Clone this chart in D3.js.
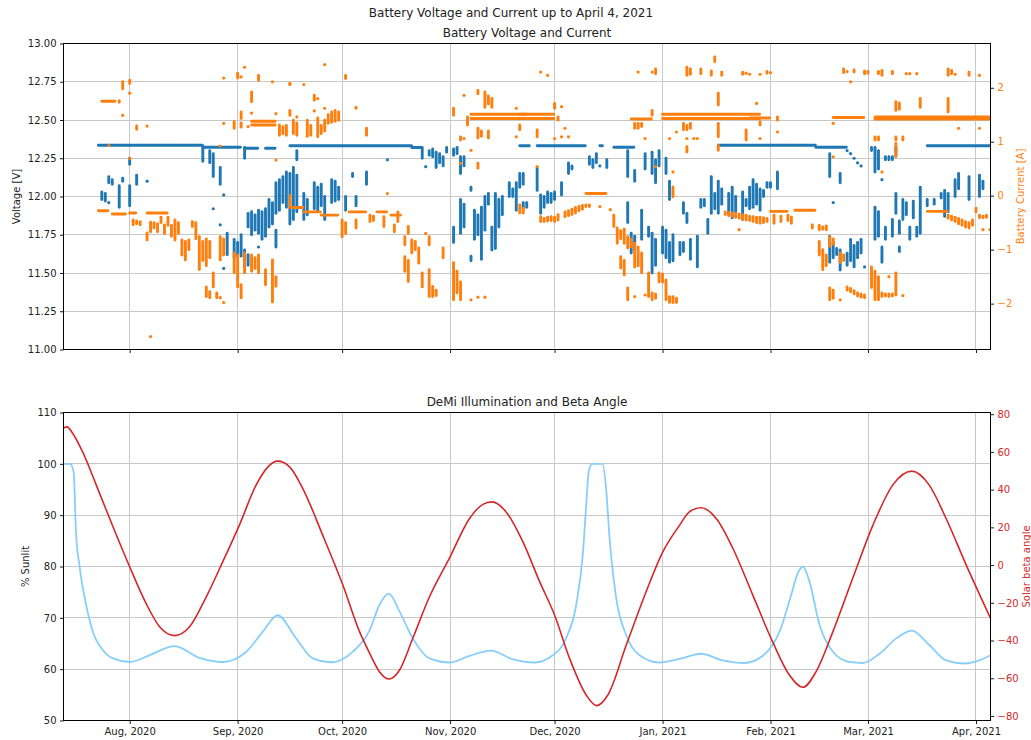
<!DOCTYPE html>
<html>
<head>
<meta charset="utf-8">
<script src="https://cdn.jsdelivr.net/npm/d3@7"></script>
<style>
  body { margin: 0; background: #fff; }
  svg text { font-family: "DejaVu Sans", sans-serif; }
</style>
</head>
<body>
<svg id="chart" width="1031" height="740"></svg>
<script>
// ---------------- Battery telemetry (top panel) ----------------
// Dense horizontal runs of samples: [start day, end day, value]
const voltageRuns = [
  ["2020-07-23","2020-08-22",12.335], ["2020-08-22","2020-09-02",12.322],
  ["2020-09-03","2020-09-07",12.315], ["2020-09-09","2020-09-12",12.315],
  ["2020-09-16","2020-10-21",12.332], ["2020-10-21","2020-10-24",12.32],
  ["2020-11-21","2020-11-24",12.332], ["2020-11-26","2020-12-10",12.332],
  ["2020-12-14","2020-12-15",12.332], ["2020-12-18","2020-12-24",12.322],
  ["2021-01-17","2021-02-14",12.335], ["2021-02-14","2021-02-23",12.322],
  ["2021-03-18","2021-04-05",12.332]
];
// Samples per day: [day, value] or [day, low, high] for a daily spread
const voltageMarks = [
  ["2020-07-24",11.98,12.03],["2020-07-25",11.97,12.02],["2020-07-26",12.09,12.13],["2020-07-26",11.96],
  ["2020-07-27",12.08,12.11],["2020-07-29",11.93,12.07],["2020-07-30",12.10,12.12],["2020-08-01",12.21,12.25],
  ["2020-08-01",11.94,12.07],["2020-08-03",12.08,12.14],["2020-08-06",12.10],
  ["2020-08-22",12.23,12.32],["2020-08-24",12.22,12.30],["2020-08-25",12.13,12.28],["2020-08-27",12.08,12.19],
  ["2020-08-28",12.01],["2020-08-25",11.92],["2020-09-03",12.25,12.32],
  ["2020-08-27",11.815],["2020-08-28",11.53],["2020-08-29",11.62,11.76],["2020-08-31",11.60,11.72],
  ["2020-09-01",11.62,11.70],["2020-09-02",11.61,11.75],["2020-09-03",11.54,11.65],["2020-09-04",11.55,11.62],
  ["2020-09-04",11.80,11.89],["2020-09-05",11.75,11.90],["2020-09-06",11.78,11.88],["2020-09-07",11.67],
  ["2020-09-07",11.76,11.91],["2020-09-08",11.72,11.90],["2020-09-09",11.74,11.92],["2020-09-10",11.80,11.98],
  ["2020-09-11",11.82,11.96],["2020-09-12",11.67,11.78],["2020-09-12",11.89,12.09],["2020-09-13",11.91,12.11],
  ["2020-09-14",11.96,12.13],["2020-09-15",11.93,12.16],["2020-09-16",11.82,12.15],["2020-09-17",11.85,12.19],
  ["2020-09-18",11.90,12.14],["2020-09-18",12.24,12.30],["2020-09-20",11.85,12.02],["2020-09-21",11.88,11.98],
  ["2020-09-23",11.92,12.09],["2020-09-24",11.91,12.06],["2020-09-25",11.94,12.08],["2020-09-26",11.85,12.00],
  ["2020-09-28",11.96,12.11],["2020-09-29",11.97,12.10],["2020-09-30",11.98,12.06],["2020-10-02",11.91,12.00],
  ["2020-10-04",12.13,12.15],["2020-10-05",11.94,12.00],["2020-10-08",12.08,12.16],["2020-10-14",12.24],
  ["2020-10-24",12.25,12.32],["2020-10-25",12.195],["2020-10-26",12.27,12.30],["2020-10-27",12.26,12.31],
  ["2020-10-28",12.19,12.29],["2020-10-29",12.22,12.28],["2020-10-30",12.20,12.26],["2020-10-31",12.29,12.32],
  ["2020-11-02",12.27,12.31],["2020-11-03",12.28,12.32],["2020-11-04",12.15,12.26],["2020-11-05",12.20,12.26],
  ["2020-11-02",11.70,11.80],["2020-11-04",11.76,11.98],["2020-11-05",11.80,11.95],["2020-11-07",12.04,12.06],
  ["2020-11-07",11.58,11.61],["2020-11-08",11.72,11.91],["2020-11-09",11.75,11.88],["2020-11-10",11.59,11.93],
  ["2020-11-11",11.78,12.00],["2020-11-12",11.95,12.02],["2020-11-13",11.65,11.80],["2020-11-14",11.66,11.78],
  ["2020-11-14",11.76,12.02],["2020-11-15",11.80,11.98],["2020-11-16",11.88,12.00],["2020-11-18",12.00,12.09],
  ["2020-11-19",12.00,12.05],["2020-11-20",11.91,12.09],["2020-11-21",12.06,12.15],["2020-11-22",12.08,12.15],
  ["2020-11-22",11.92,11.96],["2020-11-23",11.93,11.96],["2020-11-26",12.04,12.19],["2020-11-27",11.89,12.01],
  ["2020-11-28",11.93,12.00],["2020-11-29",11.96,12.03],["2020-11-30",11.96,12.02],["2020-12-01",11.98,12.03],
  ["2020-12-03",12.01,12.09],["2020-12-05",12.15,12.22],["2020-12-06",12.18,12.20],
  ["2020-12-11",12.21,12.26],["2020-12-12",12.19,12.24],["2020-12-13",12.22,12.28],["2020-12-14",12.20],
  ["2020-12-16",12.19,12.24],["2020-12-22",12.13,12.30],["2020-12-24",12.10,12.17],["2020-12-27",12.18,12.28],
  ["2020-12-29",12.15,12.29],["2020-12-30",12.09,12.24],["2020-12-31",12.20,12.30],["2021-01-02",12.15,12.25],
  ["2020-12-22",11.83,11.96],["2020-12-23",11.63,11.76],["2020-12-24",11.65,11.74],["2020-12-26",11.72,11.91],
  ["2020-12-28",11.74,11.80],["2020-12-29",11.50,11.76],["2020-12-30",11.55,11.72],["2021-01-01",11.63,11.80],
  ["2021-01-02",11.60,11.78],["2021-01-03",11.57,11.70],["2021-01-04",11.58,11.75],["2021-01-03",11.98,12.10],
  ["2021-01-06",11.62,11.70],["2021-01-07",11.64,11.70],["2021-01-07",11.89,11.96],["2021-01-08",11.83,11.89],
  ["2021-01-09",11.59,11.72],["2021-01-11",11.54,11.74],["2021-01-12",11.93,11.98],["2021-01-13",11.94,11.98],
  ["2021-01-14",11.76,11.85],["2021-01-15",11.89,12.13],["2021-01-16",11.92,12.02],["2021-01-17",11.89,12.10],
  ["2021-01-18",11.95,12.05],["2021-01-20",11.88,12.02],["2021-01-21",11.86,12.06],["2021-01-22",11.90,12.00],
  ["2021-01-24",11.85,12.03],["2021-01-25",11.94,11.98],["2021-01-26",11.92,12.06],["2021-01-27",11.93,12.11],
  ["2021-01-28",11.95,12.08],["2021-01-29",11.91,12.05],["2021-01-30",12.00,12.04],["2021-01-31",12.06,12.09],
  ["2021-02-01",12.06,12.09],["2021-02-03",12.05,12.16],
  ["2021-02-18",12.13,12.28],["2021-02-19",11.96],["2021-02-21",12.09,12.15],["2021-02-23",12.30],
  ["2021-02-24",12.28],["2021-02-25",12.25],["2021-02-26",12.22],["2021-02-27",12.20],
  ["2021-03-02",12.30,12.32],["2021-03-03",12.16,12.32],["2021-03-04",12.18,12.30],["2021-03-05",12.11],
  ["2021-03-06",12.24,12.26],["2021-03-07",12.24,12.26],["2021-03-08",12.24,12.26],["2021-03-09",12.27,12.32],
  ["2021-02-18",11.57,11.74],["2021-02-19",11.60,11.70],["2021-02-20",11.62,11.66],["2021-02-21",11.52,11.65],
  ["2021-02-23",11.55,11.63],["2021-02-24",11.58,11.72],["2021-02-25",11.54,11.68],["2021-02-26",11.60,11.70],
  ["2021-02-27",11.63,11.72],["2021-02-28",11.54],["2021-03-03",11.72,11.93],["2021-03-04",11.74,11.90],
  ["2021-03-05",11.57,11.67],["2021-03-06",11.72,11.80],["2021-03-08",11.74,11.85],["2021-03-09",11.89,12.02],
  ["2021-03-10",11.64,11.67],["2021-03-10",11.76,11.84],["2021-03-11",11.85,11.98],["2021-03-12",11.88,11.96],
  ["2021-03-13",11.72,11.80],["2021-03-14",11.86,11.97],["2021-03-15",11.74,11.80],["2021-03-16",11.76,12.06],
  ["2021-03-18",11.94,11.98],["2021-03-20",11.95,11.98],["2021-03-22",11.99,12.02],["2021-03-23",11.87,12.04],
  ["2021-03-24",11.90,12.02],["2021-03-26",12.00,12.11],["2021-03-27",12.05,12.15],["2021-03-30",11.98,12.13],
  ["2021-04-02",12.00,12.14],["2021-04-03",12.05,12.10]
];

const currentRuns = [
  ["2020-07-24","2020-07-28",1.75], ["2020-07-23","2020-07-26",-0.28], ["2020-07-27","2020-07-31",-0.34],
  ["2020-08-01","2020-08-03",-0.32], ["2020-08-06","2020-08-12",-0.32],
  ["2020-09-05","2020-09-12",1.38], ["2020-09-05","2020-09-12",1.31],
  ["2020-09-16","2020-09-20",-0.22], ["2020-09-20","2020-09-25",-0.30], ["2020-09-25","2020-09-30",-0.36],
  ["2020-10-03","2020-10-08",-0.30], ["2020-10-11","2020-10-14",-0.30], ["2020-10-15","2020-10-18",-0.36],
  ["2020-11-07","2020-11-23",1.43], ["2020-11-07","2020-11-23",1.51],
  ["2020-11-21","2020-12-01",1.43], ["2020-11-21","2020-12-01",1.51],
  ["2020-12-10","2020-12-16",0.04], ["2020-12-23","2020-12-29",1.42],
  ["2021-01-01","2021-01-29",1.43], ["2021-01-01","2021-01-29",1.51],
  ["2021-01-26","2021-02-01",1.44], ["2021-02-19","2021-02-28",1.45],
  ["2021-03-03","2021-04-05",1.42], ["2021-03-03","2021-04-05",1.46],
  ["2021-02-01","2021-02-06",-0.29], ["2021-02-08","2021-02-14",-0.27], ["2021-03-18","2021-03-24",-0.29]
];
const currentMarks = [
  ["2020-07-29",1.73,1.76],["2020-07-30",1.98,2.11],["2020-07-30",1.49],["2020-08-01",2.08,2.14],
  ["2020-08-01",1.90],["2020-08-03",1.23,1.29],["2020-08-06",1.29],["2020-07-26",0.93],["2020-08-01",0.69],
  ["2020-08-02",-0.45,-0.54],["2020-08-03",-0.47,-0.52],["2020-08-04",-0.48,-0.54],["2020-08-06",-0.69,-0.82],
  ["2020-08-07",-0.49,-0.67],["2020-08-08",-0.50,-0.60],["2020-08-09",-0.52,-0.67],["2020-08-10",-0.40,-0.50],
  ["2020-08-11",-0.54,-0.70],["2020-08-12",-0.40,-0.55],["2020-08-13",-0.55,-0.75],["2020-08-14",-0.45,-0.82],
  ["2020-08-15",-0.50,-0.70],["2020-08-16",-0.82,-1.10],["2020-08-17",-0.85,-1.19],["2020-08-18",-0.82,-1.00],
  ["2020-08-19",-0.48,-0.57],["2020-08-20",-0.50,-0.80],["2020-08-21",-0.76,-1.37],["2020-08-22",-0.85,-1.20],
  ["2020-08-23",-0.80,-1.30],["2020-08-24",-0.85,-1.15],["2020-08-23",-1.69,-1.87],["2020-08-24",-1.78,-1.89],
  ["2020-08-25",-1.43,-1.69],["2020-08-26",-1.80,-1.89],["2020-08-27",-1.89],["2020-08-27",-0.76,-1.19],
  ["2020-08-28",-0.80,-1.10],["2020-08-28",-1.98],["2020-08-31",-1.06,-1.43],["2020-09-01",-1.10,-1.40],
  ["2020-09-01",-1.43,-1.69],["2020-09-02",-1.65,-1.89],["2020-09-03",-1.06,-1.43],["2020-09-05",-1.10,-1.40],
  ["2020-09-06",-1.15,-1.35],["2020-09-07",-1.10,-1.43],["2020-09-09",-1.37,-1.65],["2020-09-11",-1.19,-1.97],
  ["2020-09-12",-1.50,-1.68],["2020-08-07",-2.61],
  ["2020-08-28",2.18],["2020-09-01",2.18,2.27],["2020-09-02",2.20],["2020-09-03",2.38],["2020-09-07",2.14,2.23],
  ["2020-09-11",2.11],["2020-09-16",2.06],["2020-09-05",1.74,1.92],["2020-09-02",1.43,1.55],["2020-09-05",1.53],
  ["2020-09-12",1.52],["2020-09-16",1.49,1.58],["2020-08-28",1.34],["2020-08-31",1.25,1.37],["2020-09-02",1.27,1.35],
  ["2020-09-04",1.28],["2020-08-27",0.92],["2020-09-12",0.66],["2020-09-16",-0.20,0.0],
  ["2020-09-13",1.12,1.31],["2020-09-14",1.15,1.28],["2020-09-15",1.12,1.30],["2020-09-17",1.15,1.40],
  ["2020-09-18",1.12,1.35],["2020-09-16",2.08],["2020-09-20",2.06],["2020-09-23",1.77,1.86],["2020-09-24",1.80],
  ["2020-09-26",2.43],["2020-09-26",1.62],["2020-09-23",1.57],["2020-09-18",1.46],["2020-09-21",1.10,1.40],
  ["2020-09-22",1.12,1.30],["2020-09-24",1.09,1.44],["2020-09-25",1.15,1.30],["2020-09-26",1.20,1.40],
  ["2020-09-27",1.34,1.50],["2020-09-28",1.36,1.55],["2020-09-29",1.38,1.58],["2020-09-30",1.40,1.55],
  ["2020-10-02",2.17,2.23],["2020-10-05",1.62,1.64],["2020-10-08",1.12,1.25],["2020-10-14",0.04],
  ["2020-10-01",-0.45,-0.76],["2020-10-02",-0.50,-0.70],["2020-10-05",-0.45,-0.60],["2020-10-09",-0.36,-0.48],
  ["2020-10-10",-0.38,-0.46],["2020-10-13",-0.39,-0.57],["2020-10-16",-0.54,-0.67],["2020-10-17",-0.30,-0.48],
  ["2020-10-19",-0.76,-0.91],["2020-10-20",-0.57,-0.70],["2020-10-19",-1.13,-1.40],["2020-10-20",-1.20,-1.59],
  ["2020-10-21",-0.82,-1.06],["2020-10-22",-0.85,-1.00],["2020-10-23",-0.97,-1.25],["2020-10-24",-1.43,-1.69],
  ["2020-10-25",-0.70],["2020-10-26",-0.76,-0.91],["2020-10-26",-1.37,-1.87],["2020-10-27",-1.68,-1.87],
  ["2020-10-28",-1.75,-1.85],["2020-10-30",-0.97,-1.15],["2020-11-02",-1.24,-1.93],["2020-11-03",-1.40,-1.80],
  ["2020-11-04",-1.60,-1.93],["2020-11-07",-1.93],["2020-11-09",-1.88],["2020-11-11",-1.88],
  ["2020-11-02",1.49,1.62],["2020-11-05",1.86],["2020-11-04",1.03,1.09],["2020-11-05",1.06],["2020-11-06",1.31,1.46],
  ["2020-11-09",1.89,1.95],["2020-11-11",1.64,1.92],["2020-11-12",1.70,1.85],["2020-11-13",1.64,1.80],
  ["2020-11-09",1.07,1.25],["2020-11-10",1.10,1.20],["2020-11-12",1.07,1.20],["2020-11-20",1.62],["2020-11-20",1.09],
  ["2020-11-07",0.84],["2020-11-09",0.51,0.60],["2020-11-04",0.60],["2020-11-21",-0.17,-0.32],["2020-11-22",-0.23,-0.32],
  ["2020-12-01",1.62,1.71],["2020-12-03",1.65],["2020-12-02",1.40,1.46],["2020-11-21",1.22,1.31],["2020-11-26",1.09,1.22],
  ["2020-12-01",1.06],["2020-12-03",1.09],["2020-12-04",1.25],["2020-12-05",1.09],["2020-11-27",2.29],["2020-11-29",2.23],
  ["2020-11-26",0.54],["2020-11-27",-0.39,-0.48],["2020-11-28",-0.42,-0.48],["2020-11-29",-0.40,-0.47],
  ["2020-11-30",-0.39,-0.46],["2020-12-01",-0.40,-0.48],["2020-12-02",-0.35,-0.45],["2020-12-04",-0.30,-0.39],
  ["2020-12-05",-0.28,-0.37],["2020-12-06",-0.25,-0.35],["2020-12-07",-0.22,-0.32],["2020-12-08",-0.20,-0.28],
  ["2020-12-09",-0.18,-0.25],["2020-12-10",-0.17,-0.20],["2020-12-11",-0.17,-0.20],["2020-12-14",-0.20],
  ["2020-12-17",-0.26],["2020-12-18",-0.36,-0.57],["2020-12-19",-0.60,-0.88],["2020-12-20",-0.65,-0.80],
  ["2020-12-21",-0.62,-0.88],["2020-12-22",-0.76,-0.97],["2020-12-23",-0.80,-0.95],["2020-12-24",-0.88,-1.32],
  ["2020-12-25",-0.95,-1.30],["2020-12-20",-1.13,-1.34],["2020-12-21",-1.20,-1.47],["2020-12-22",-1.71,-1.93],
  ["2020-12-24",-1.87],["2020-12-26",-1.06,-1.43],["2020-12-27",-1.84],["2020-12-28",-1.43,-1.87],
  ["2020-12-29",-1.80,-1.93],["2020-12-30",-1.82,-1.90],["2020-12-31",-1.43,-1.60],["2021-01-01",-1.45,-1.60],
  ["2021-01-02",-1.56,-1.93],["2021-01-03",-1.87,-1.98],["2021-01-04",-1.87,-1.98],["2021-01-05",-1.90,-1.98],
  ["2021-01-04",-0.02,0.16],["2021-01-04",0.44],["2020-12-30",0.54],
  ["2020-12-24",1.25,1.34],["2020-12-25",1.25,1.34],["2020-12-26",1.28,1.34],["2020-12-27",1.06],["2020-12-29",1.49,1.58],
  ["2021-01-07",1.22,1.34],["2021-01-08",1.22,1.30],["2021-01-09",1.25,1.34],["2021-01-08",1.06],["2021-01-11",1.06],
  ["2021-01-08",0.81,0.91],["2021-01-17",1.68,1.90],["2021-01-16",2.48,2.57],["2021-01-12",2.26,2.35],
  ["2021-01-15",2.23,2.31],["2021-01-18",2.23,2.29],["2021-01-08",2.23,2.38],["2021-01-09",2.25,2.35],
  ["2020-12-30",2.26,2.35],["2020-12-25",2.29],["2020-12-29",2.29],["2021-01-24",2.25,2.29],["2021-01-25",2.27],
  ["2021-01-26",2.25],["2021-01-29",2.25],["2021-01-17",1.09,1.34],["2021-01-25",1.03,1.22],["2021-01-17",0.84,0.93],
  ["2021-01-03",1.06],["2021-01-05",1.18],["2021-01-10",1.06],
  ["2021-01-19",-0.30,-0.35],["2021-01-20",-0.31,-0.37],["2021-01-21",-0.32,-0.38],["2021-01-22",-0.33,-0.40],
  ["2021-01-23",-0.34,-0.42],["2021-01-23",-0.63],["2021-01-24",-0.35,-0.44],["2021-01-25",-0.36,-0.45],
  ["2021-01-26",-0.38,-0.46],["2021-01-27",-0.39,-0.48],["2021-01-28",-0.40,-0.50],["2021-01-29",-0.40,-0.51],
  ["2021-01-30",-0.41,-0.50],["2021-01-31",-0.42,-0.48],
  ["2021-01-31",2.27,2.30],["2021-02-01",2.28],["2021-02-22",2.28,2.35],["2021-02-23",2.30],["2021-02-24",2.11],
  ["2021-02-25",2.29,2.33],["2021-02-28",2.26,2.31],["2021-03-01",2.27,2.30],["2021-03-04",2.26,2.30],
  ["2021-03-05",2.23,2.32],["2021-03-08",2.26,2.30],["2021-03-12",2.26],["2021-03-13",2.26],["2021-03-15",2.26],
  ["2021-03-24",2.23,2.35],["2021-03-25",2.26,2.32],["2021-03-26",2.25],["2021-03-30",2.23,2.29],["2021-04-02",2.23],
  ["2021-01-28",1.71],["2021-01-29",1.31,1.37],["2021-02-03",1.40,1.46],["2021-02-19",1.34],["2021-03-09",1.58,1.74],
  ["2021-03-10",1.60,1.72],["2021-03-16",1.64,1.80],["2021-03-24",1.55,1.80],["2021-03-27",1.25],["2021-04-02",1.25],
  ["2021-03-03",1.03,1.09],["2021-03-04",1.03,1.09],["2021-03-09",1.03,1.09],["2021-03-11",1.03,1.09],
  ["2021-03-09",0.72,0.97],["2021-02-19",0.72],["2021-01-29",1.06],["2021-02-03",1.18],["2021-03-05",0.44],
  ["2021-02-02",-0.36,-0.51],["2021-02-04",-0.38,-0.48],["2021-02-06",-0.36,-0.46],["2021-02-07",-0.40,-0.51],
  ["2021-02-13",-0.54,-0.60],["2021-02-15",-0.55,-0.63],["2021-02-16",-0.58,-0.62],["2021-02-17",-0.56,-0.63],
  ["2021-02-18",-0.76,-0.94],["2021-02-19",-0.80,-0.90],["2021-02-15",-0.85,-1.10],["2021-02-16",-1.00,-1.37],
  ["2021-02-17",-1.10,-1.30],["2021-02-21",-1.06,-1.24],["2021-02-22",-1.10,-1.20],["2021-02-18",-1.71,-1.93],
  ["2021-02-19",-1.75,-1.90],["2021-02-21",-1.93],["2021-02-23",-1.69,-1.75],["2021-02-24",-1.72,-1.78],
  ["2021-02-25",-1.76,-1.82],["2021-02-26",-1.80,-1.86],["2021-02-27",-1.82,-1.88],["2021-02-28",-1.84,-1.89],
  ["2021-03-02",-1.32,-1.70],["2021-03-03",-1.40,-1.93],["2021-03-04",-1.50,-1.93],["2021-03-05",-1.80,-1.87],
  ["2021-03-06",-1.82,-1.86],["2021-03-07",-1.50],["2021-03-07",-1.82,-1.87],["2021-03-08",-1.82,-1.86],
  ["2021-03-09",-1.43,-1.84],["2021-03-11",-1.85],
  ["2021-03-24",-0.36,-0.42],["2021-03-25",-0.38,-0.45],["2021-03-26",-0.40,-0.48],["2021-03-27",-0.42,-0.52],
  ["2021-03-28",-0.45,-0.55],["2021-03-29",-0.48,-0.58],["2021-03-30",-0.50,-0.60],["2021-03-31",-0.45,-0.55],
  ["2021-04-01",-0.23,-0.30],["2021-04-02",-0.36,-0.41],["2021-04-03",-0.38,-0.41],["2021-04-04",-0.36,-0.40],
  ["2021-04-03",-0.63],["2021-04-05",-0.63]
];

// ---------------- Illumination and beta angle (bottom panel) ----------------
const sunlitTimes = [
  "2020-07-13 00","2020-07-14 22","2020-07-15 22","2020-07-16 14","2020-07-17 14","2020-07-19 12","2020-07-21 10",
  "2020-07-24 08","2020-07-27 05","2020-08-01 00","2020-08-06 16","2020-08-13 22","2020-08-21 00","2020-08-27 16",
  "2020-09-03 12","2020-09-08 05","2020-09-12 12","2020-09-17 19","2020-09-22 14","2020-09-28 07","2020-10-04 02",
  "2020-10-08 22","2020-10-11 17","2020-10-14 10","2020-10-17 12","2020-10-21 07","2020-10-26 02","2020-11-01 00",
  "2020-11-06 14","2020-11-12 19","2020-11-19 00","2020-11-25 05","2020-11-30 12","2020-12-04 07","2020-12-07 05",
  "2020-12-09 02","2020-12-10 02","2020-12-10 19","2020-12-11 19","2020-12-14 19","2020-12-15 19","2020-12-16 19",
  "2020-12-18 17","2020-12-21 14","2020-12-25 10","2020-12-31 02","2021-01-05 22","2021-01-12 02","2021-01-18 07",
  "2021-01-24 12","2021-01-29 19","2021-02-03 14","2021-02-06 22","2021-02-08 19","2021-02-10 07","2021-02-12 05",
  "2021-02-15 02","2021-02-18 22","2021-02-23 17","2021-02-27 12","2021-03-04 07","2021-03-09 02","2021-03-13 14",
  "2021-03-18 14","2021-03-23 10","2021-03-28 17","2021-04-02 00","2021-04-05 04"
];
const sunlitPct = [
  100,100,98.4,86.7,80.2,72.5,67.3,
  63.7,62.1,61.4,62.7,64.5,62.2,61.4,
  63.4,67.3,70.5,66.0,62.1,61.35,63.4,
  67.6,72.5,74.7,71.2,66.0,62.1,61.3,
  62.6,63.6,61.9,61.3,62.7,66.0,72.5,
  82.2,91.9,98.4,100,100,95.2,85.5,
  73.8,66.6,62.7,61.3,62.0,63.0,61.7,
  61.2,62.6,67.3,74.4,78.6,80.0,77.0,
  68.6,63.4,61.4,61.2,63.0,66.0,67.5,
  64.7,61.7,61.1,61.7,62.7
];
const betaTimes = [
  "2020-07-13 00","2020-07-14 00","2020-07-15 16","2020-07-18 12","2020-07-22 10","2020-07-27 05","2020-08-01 00",
  "2020-08-05 17","2020-08-09 14","2020-08-13 22","2020-08-18 05","2020-08-23 00","2020-08-27 17","2020-09-01 12",
  "2020-09-06 07","2020-09-09 17","2020-09-12 12","2020-09-15 22","2020-09-19 17","2020-09-25 10","2020-10-01 05",
  "2020-10-06 00","2020-10-08 22","2020-10-11 17","2020-10-14 10","2020-10-17 12","2020-10-21 07","2020-10-26 02",
  "2020-11-01 00","2020-11-06 14","2020-11-10 10","2020-11-13 00","2020-11-17 02","2020-11-21 22","2020-11-26 17",
  "2020-12-01 00","2020-12-05 07","2020-12-10 02","2020-12-13 02","2020-12-16 07","2020-12-21 14","2020-12-27 07",
  "2021-01-01 02","2021-01-05 22","2021-01-08 17","2021-01-12 02","2021-01-16 10","2021-01-21 05","2021-01-26 22",
  "2021-02-01 14","2021-02-06 10","2021-02-10 07","2021-02-14 02","2021-02-18 22","2021-02-24 14","2021-03-02 10",
  "2021-03-08 02","2021-03-13 14","2021-03-18 14","2021-03-23 10","2021-03-29 05","2021-04-05 04"
];
const betaDeg = [
  72.7,73.3,69.8,60.0,42.4,20.3,-0.9,
  -20.3,-32.7,-37.4,-32.7,-16.8,1.7,21.2,
  42.4,52.1,55.1,52.1,40.6,15.9,-10.6,
  -35.3,-46.8,-56.5,-60.4,-55.6,-38.8,-16.8,
  4.4,24.7,32.2,33.5,28.2,12.3,-8.8,
  -26.5,-49.4,-68.9,-74.5,-68.9,-42.4,-14.1,
  7.0,21.2,28.2,30.4,24.7,8.8,-15.9,
  -40.6,-58.3,-64.8,-56.5,-35.3,-7.1,21.2,
  42.4,49.8,42.4,24.7,0.0,-28.2
];

// Axis tick values
const voltageTicks = d3.range(11, 13.001, 0.25);
const currentTicks = [-2, -1, 0, 1, 2];
const sunlitTicks = d3.range(50, 111, 10);
const betaTicks = d3.range(-80, 81, 20);

// ---------------- Drawing ----------------
const parseDay = d3.utcParse("%Y-%m-%d");
const parseHour = d3.utcParse("%Y-%m-%d %H");
const toTime = s => (s.length > 10 ? parseHour(s) : parseDay(s));

const BLUE = "#1f77b4", ORANGE = "#ff7f0e", RED = "#d62728", SKY = "#87cefa";
const GRID = "#c8c8c8", INK = "#222";
const L = 63.5, R = 990.5;
const upperPanel = { y0: 43.5, y1: 349.5 };
const lowerPanel = { y0: 412.5, y1: 720.5 };

const svg = d3.select("#chart");

const x = d3.scaleUtc()
  .domain([Date.UTC(2020, 6, 13, 0), Date.UTC(2021, 3, 5, 4)])
  .range([L, R]);
const monthTicks = x.ticks(d3.utcMonth.every(1));

const yV = d3.scaleLinear().domain([11, 13]).range([upperPanel.y1, upperPanel.y0]);
const yC = d3.scaleLinear().domain([-2.85, 2.82]).range([upperPanel.y1, upperPanel.y0]);
const yS = d3.scaleLinear().domain([50, 110]).range([lowerPanel.y1, lowerPanel.y0]);
const yB = d3.scaleLinear().domain([-82.4, 80.9]).range([lowerPanel.y1, lowerPanel.y0]);

const defs = svg.append("defs");
function clip(id, p) {
  defs.append("clipPath").attr("id", id).append("rect")
    .attr("x", L).attr("y", p.y0).attr("width", R - L).attr("height", p.y1 - p.y0);
}
clip("clipUpper", upperPanel);
clip("clipLower", lowerPanel);

const snap = v => Math.round(v - 0.5) + 0.5;

function grid(p, yScale, yTicks) {
  const g = svg.append("g").attr("stroke", GRID).attr("stroke-width", 1);
  g.selectAll("line.v").data(monthTicks).join("line").attr("class", "v")
    .attr("x1", d => snap(x(d))).attr("x2", d => snap(x(d)))
    .attr("y1", p.y0).attr("y2", p.y1);
  g.selectAll("line.h").data(yTicks).join("line").attr("class", "h")
    .attr("x1", L).attr("x2", R)
    .attr("y1", d => snap(yScale(d))).attr("y2", d => snap(yScale(d)));
}
grid(upperPanel, yV, voltageTicks);
grid(lowerPanel, yS, sunlitTicks);

// scatter of one telemetry channel: dense runs, daily spreads and single samples
function telemetry(runs, marks, yScale, color) {
  const g = svg.append("g").attr("clip-path", "url(#clipUpper)")
    .attr("stroke", color).attr("fill", color)
    .attr("stroke-width", 2.9).attr("stroke-linecap", "round");
  g.selectAll("line.run").data(runs).join("line").attr("class", "run")
    .attr("stroke-dasharray", "2.6 0.9")
    .attr("x1", d => x(toTime(d[0]))).attr("x2", d => x(toTime(d[1])))
    .attr("y1", d => yScale(d[2])).attr("y2", d => yScale(d[2]));
  g.selectAll("line.spread").data(marks.filter(d => d.length > 2)).join("line").attr("class", "spread")
    .attr("x1", d => x(toTime(d[0]))).attr("x2", d => x(toTime(d[0])))
    .attr("y1", d => yScale(d[1])).attr("y2", d => yScale(d[2]));
  g.selectAll("circle").data(marks.filter(d => d.length === 2)).join("circle")
    .attr("stroke", "none")
    .attr("cx", d => x(toTime(d[0]))).attr("cy", d => yScale(d[1])).attr("r", 1.6);
}
telemetry(voltageRuns, voltageMarks, yV, BLUE);
telemetry(currentRuns, currentMarks, yC, ORANGE);

// bottom panel lines
const sunlit = sunlitTimes.map((t, i) => [toTime(t), sunlitPct[i]]);
const beta = betaTimes.map((t, i) => [toTime(t), betaDeg[i]]);
const gb = svg.append("g").attr("clip-path", "url(#clipLower)").attr("fill", "none");
gb.append("path").datum(sunlit)
  .attr("d", d3.line().x(d => x(d[0])).y(d => yS(d[1])).curve(d3.curveMonotoneX))
  .attr("stroke", SKY).attr("stroke-width", 1.8);
gb.append("path").datum(beta)
  .attr("d", d3.line().x(d => x(d[0])).y(d => yB(d[1])).curve(d3.curveMonotoneX))
  .attr("stroke", RED).attr("stroke-width", 1.6);

// axes
function styleAxis(g, color) {
  g.select(".domain").remove();
  g.selectAll(".tick line").attr("stroke", "#000").attr("stroke-width", 0.9);
  g.selectAll(".tick text").attr("fill", color).attr("font-size", 10)
    .attr("font-family", "DejaVu Sans, sans-serif");
}
const intFmt = d3.format("d");

function xAxis(p, withLabels) {
  const a = d3.axisBottom(x).tickValues(monthTicks).tickSize(3.5).tickPadding(3.5)
    .tickFormat(withLabels ? d3.utcFormat("%b, %Y") : () => "");
  svg.append("g").attr("transform", `translate(0,${p.y1})`).call(a).call(g => styleAxis(g, INK));
}
xAxis(upperPanel, false);
xAxis(lowerPanel, true);

svg.append("g").attr("transform", `translate(${L},0)`)
  .call(d3.axisLeft(yV).tickValues(voltageTicks).tickFormat(d3.format(".2f")).tickSize(3.5).tickPadding(3.5))
  .call(g => styleAxis(g, INK));
svg.append("g").attr("transform", `translate(${R},0)`)
  .call(d3.axisRight(yC).tickValues(currentTicks).tickFormat(intFmt).tickSize(3.5).tickPadding(3.5))
  .call(g => styleAxis(g, ORANGE));
svg.append("g").attr("transform", `translate(${L},0)`)
  .call(d3.axisLeft(yS).tickValues(sunlitTicks).tickFormat(intFmt).tickSize(3.5).tickPadding(3.5))
  .call(g => styleAxis(g, INK));
svg.append("g").attr("transform", `translate(${R},0)`)
  .call(d3.axisRight(yB).tickValues(betaTicks).tickFormat(intFmt).tickSize(3.5).tickPadding(3.5))
  .call(g => styleAxis(g, RED));

// frames
[upperPanel, lowerPanel].forEach(p => {
  svg.append("rect").attr("x", L).attr("y", p.y0).attr("width", R - L).attr("height", p.y1 - p.y0)
    .attr("fill", "none").attr("stroke", "#000").attr("stroke-width", 1);
});

// titles and axis labels
function label(str, xp, yp, opts = {}) {
  const t = svg.append("text").text(str)
    .attr("font-size", opts.size || 10).attr("fill", opts.color || INK)
    .attr("text-anchor", "middle");
  if (opts.rotate) {
    t.attr("transform", `translate(${xp},${yp}) rotate(-90)`).attr("dominant-baseline", "central");
  } else {
    t.attr("x", xp).attr("y", yp);
  }
  return t;
}
label("Battery Voltage and Current up to April 4, 2021", 511, 16.5, { size: 12 });
label("Battery Voltage and Current", (L + R) / 2, 36.5, { size: 12 });
label("DeMi Illumination and Beta Angle", (L + R) / 2, 405.5, { size: 12 });
label("Voltage [V]", 16, (upperPanel.y0 + upperPanel.y1) / 2, { rotate: true });
label("Battery Current [A]", 1020, (upperPanel.y0 + upperPanel.y1) / 2, { rotate: true, color: ORANGE });
label("% Sunlit", 25, (lowerPanel.y0 + lowerPanel.y1) / 2, { rotate: true });
label("Solar beta angle", 1026, (lowerPanel.y0 + lowerPanel.y1) / 2, { rotate: true, color: RED });
</script>
</body>
</html>
